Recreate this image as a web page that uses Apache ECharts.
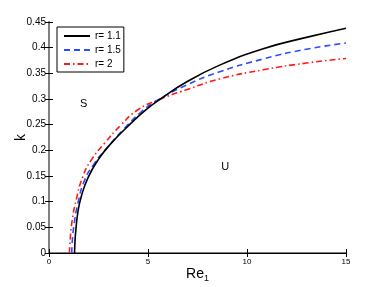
<!DOCTYPE html>
<html><head><meta charset="utf-8">
<script src="https://cdn.jsdelivr.net/npm/echarts@6/dist/echarts.min.js"></script>
<style>html,body{margin:0;padding:0;background:#fff}#c{width:382px;height:287px}</style>
</head><body><div id="c"></div>
<script>
const seriesNames = ['r= 1.1', 'r= 1.5', 'r= 2'];
const curveR11 = [[1.29,0],[1.31,0.02],[1.34,0.038],[1.46,0.080],[1.63,0.110],[1.96,0.146],[2.47,0.181],[3.15,0.214],[3.99,0.247],[4.83,0.277],[5.59,0.299],[6.94,0.333],[8.62,0.366],[10.82,0.398],[13.0,0.420],[15,0.438]];
const curveR15 = [[1.15,0],[1.17,0.02],[1.25,0.051],[1.46,0.097],[1.80,0.142],[2.30,0.175],[2.97,0.207],[3.82,0.243],[4.66,0.275],[5.5,0.298],[6.94,0.327],[8.62,0.353],[10.82,0.378],[13.0,0.397],[15,0.409]];
const curveR2 = [[1.03,0],[1.06,0.02],[1.15,0.058],[1.37,0.103],[1.71,0.149],[2.13,0.181],[2.81,0.214],[3.65,0.25],[4.49,0.279],[5.5,0.298],[6.94,0.318],[8.62,0.339],[10.82,0.357],[13.0,0.370],[15,0.379]];
const xTicks = {min:0, max:15, interval:5};
const yTicks = {min:0, max:0.45, interval:0.05};
const regionLabels = [{name:'S', pos:[1.75,0.29]}, {name:'U', pos:[8.9,0.168]}];

const chart = echarts.init(document.getElementById('c'), null, {renderer:'canvas'});
const font = 'Liberation Sans, Arial, sans-serif';
const axisCommon = {
  axisTick:{inside:true, length:4, lineStyle:{color:'#000'}},
  splitLine:{show:false}
};
chart.setOption({
  animation:false,
  grid:{left:49, right:36, top:22, bottom:34, containLabel:false, outerBoundsMode:'none'},
  legend:{
    data:seriesNames, orient:'vertical', left:57, top:27,
    itemWidth:26, itemHeight:8, itemGap:4,
    borderColor:'#000', borderWidth:1, padding:[4,3,3,6],
    itemStyle:{opacity:0},
    lineStyle:{opacity:1},
    textStyle:{fontFamily:font, fontSize:10, color:'#000'},
    backgroundColor:'#fff'
  },
  xAxis:[
    Object.assign({type:'value', min:xTicks.min, max:xTicks.max, interval:xTicks.interval, position:'bottom',
      name:'{a|Re}{b|1}', nameLocation:'middle', nameGap:12, nameMoveOverlap:false,
      nameTextStyle:{rich:{a:{fontFamily:font, fontSize:14, color:'#000'}, b:{fontFamily:font, fontSize:9, color:'#000', padding:[9,0,0,0]}}},
      axisLine:{lineStyle:{color:'#7f7f7f', width:2}},
      axisLabel:{fontFamily:font, fontSize:8, color:'#000', margin:5}}, axisCommon),
    Object.assign({type:'value', min:xTicks.min, max:xTicks.max, interval:xTicks.interval, position:'top',
      axisLine:{lineStyle:{color:'#000', width:1}}, axisLabel:{show:false}}, axisCommon)
  ],
  yAxis:[
    Object.assign({type:'value', min:yTicks.min, max:yTicks.max, interval:yTicks.interval, position:'left',
      name:'k', nameLocation:'middle', nameGap:21, nameRotate:90, nameMoveOverlap:false,
      nameTextStyle:{fontFamily:font, fontSize:14, color:'#000'},
      axisLine:{lineStyle:{color:'#000', width:1}},
      axisLabel:{fontFamily:font, fontSize:10, color:'#000', margin:3}}, axisCommon),
    Object.assign({type:'value', min:yTicks.min, max:yTicks.max, interval:yTicks.interval, position:'right',
      axisLine:{lineStyle:{color:'#7f7f7f', width:2}}, axisLabel:{show:false}}, axisCommon)
  ],
  series:[
    {name:seriesNames[0], type:'line', data:curveR11, showSymbol:false, symbol:'none', smooth:0.5,
      lineStyle:{color:'#000', width:1.6, type:'solid'}, itemStyle:{color:'#000'}, z:5},
    {name:seriesNames[1], type:'line', data:curveR15, showSymbol:false, symbol:'none', smooth:0.5,
      lineStyle:{color:'#2b4cff', width:1.6, type:[6,4]}, itemStyle:{color:'#2b4cff'}, z:4},
    {name:seriesNames[2], type:'line', data:curveR2, showSymbol:false, symbol:'none', smooth:0.5,
      lineStyle:{color:'#ff1a1a', width:1.6, type:[6,3,1.5,3]}, itemStyle:{color:'#ff1a1a'}, z:3,
      markPoint:{symbol:'circle', symbolSize:0,
        label:{show:true, formatter:p=>p.name, fontFamily:font, fontSize:11, color:'#000'},
        data:regionLabels.map(r=>({name:r.name, coord:r.pos}))}}
  ]
});
</script></body></html>
